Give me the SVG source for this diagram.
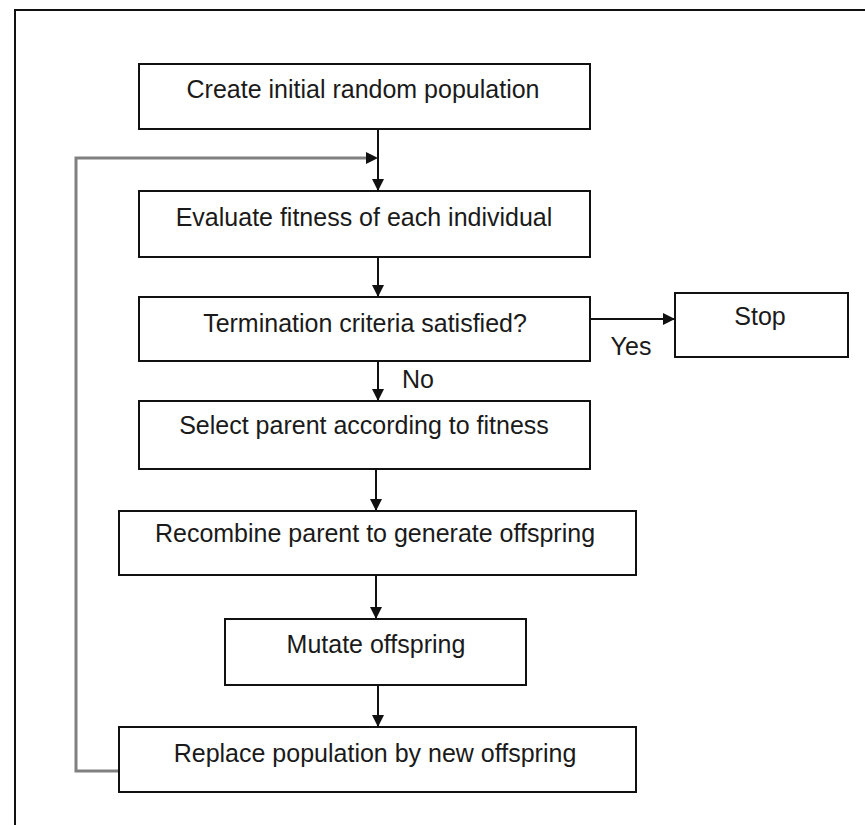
<svg xmlns="http://www.w3.org/2000/svg" width="865" height="825" viewBox="0 0 865 825">
<style>
.box{fill:#fff;stroke:#111;stroke-width:2}
.t{font-family:"Liberation Sans",Arial,sans-serif;font-size:25px;fill:#1a1a1a;text-anchor:middle}
.c{fill:none;stroke:#111;stroke-width:2}
.loop{fill:none;stroke:#808080;stroke-width:3}
</style>
<defs>
<marker id="ah" viewBox="0 0 12 12" refX="12" refY="6" markerWidth="12" markerHeight="12" markerUnits="userSpaceOnUse" orient="auto">
<path d="M0,0 L12,6 L0,12 z" fill="#111"/>
</marker>
</defs>
<rect x="15" y="10" width="860" height="830" fill="#fff" stroke="#111" stroke-width="2"/>
<g id="connectors">
<line class="c" x1="378" y1="129" x2="378" y2="191" marker-end="url(#ah)"/>
<path class="loop" d="M119,771 H76 V158 H366"/>
<path d="M366,152 L378,158 L366,164 z" fill="#111"/>
<line class="c" x1="378" y1="257" x2="378" y2="297" marker-end="url(#ah)"/>
<line class="c" x1="590" y1="319" x2="675" y2="319" marker-end="url(#ah)"/>
<line class="c" x1="378" y1="361" x2="378" y2="401" marker-end="url(#ah)"/>
<line class="c" x1="376" y1="469" x2="376" y2="511" marker-end="url(#ah)"/>
<line class="c" x1="376" y1="575" x2="376" y2="619" marker-end="url(#ah)"/>
<line class="c" x1="378" y1="685" x2="378" y2="727" marker-end="url(#ah)"/>
</g>
<g id="n1"><rect class="box" x="139" y="64" width="451" height="65"/><text class="t" x="363" y="98">Create initial random population</text></g>
<g id="n2"><rect class="box" x="139" y="191" width="451" height="66"/><text class="t" x="364" y="226">Evaluate fitness of each individual</text></g>
<g id="n3"><rect class="box" x="139" y="297" width="451" height="64"/><text class="t" x="365" y="332">Termination criteria satisfied?</text></g>
<g id="stop"><rect class="box" x="675" y="293" width="173" height="64"/><text class="t" x="760" y="325">Stop</text></g>
<text class="t" x="631" y="355">Yes</text>
<text class="t" x="418" y="388">No</text>
<g id="n4"><rect class="box" x="139" y="401" width="451" height="68"/><text class="t" x="364" y="434">Select parent according to fitness</text></g>
<g id="n5"><rect class="box" x="119" y="511" width="517" height="64"/><text class="t" x="375" y="542">Recombine parent to generate offspring</text></g>
<g id="n6"><rect class="box" x="225" y="619" width="301" height="66"/><text class="t" x="376" y="653">Mutate offspring</text></g>
<g id="n7"><rect class="box" x="119" y="727" width="517" height="65"/><text class="t" x="375" y="762">Replace population by new offspring</text></g>
</svg>
